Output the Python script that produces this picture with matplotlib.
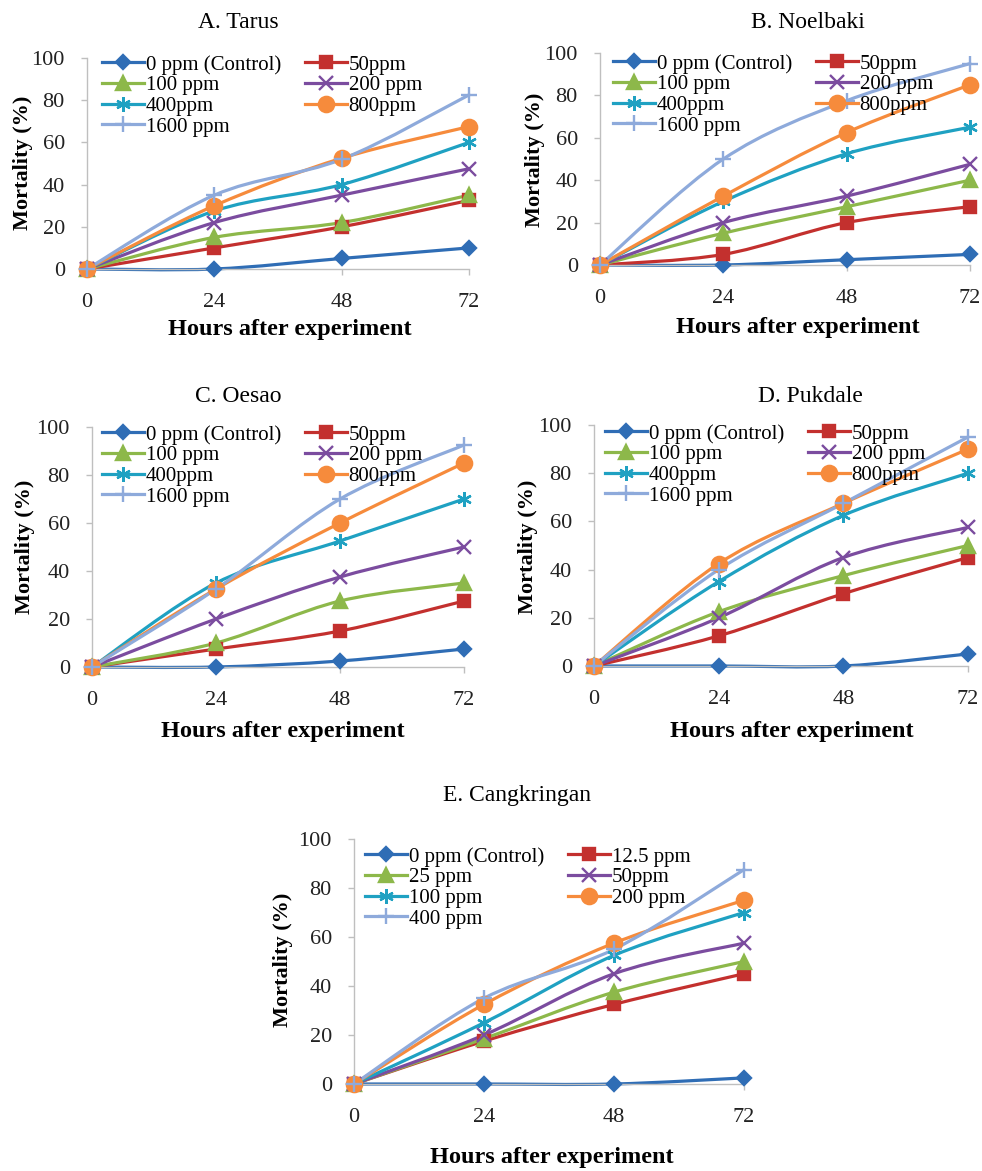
import matplotlib
matplotlib.use("Agg")
import matplotlib.pyplot as plt
from matplotlib.path import Path
from matplotlib.patches import PathPatch
from matplotlib.lines import Line2D

plt.rcParams['font.family'] = ['Liberation Serif', 'DejaVu Serif']

hours = [0, 24, 48, 72]
y_ticks = [0, 20, 40, 60, 80, 100]

labels_main = ['0 ppm (Control)', '50ppm', '100 ppm', '200 ppm', '400ppm', '800ppm', '1600 ppm']
labels_e = ['0 ppm (Control)', '12.5 ppm', '25 ppm', '50ppm', '100 ppm', '200 ppm', '400 ppm']

# A. Tarus
tarus = [
    [0, 0, 5, 10],
    [0, 10, 20, 32.5],
    [0, 15, 22, 35],
    [0, 22, 35, 47.5],
    [0, 27.5, 40, 60],
    [0, 30, 52.5, 67.5],
    [0, 35, 52, 82.5],
]
# B. Noelbaki
noelbaki = [
    [0, 0, 2.5, 5],
    [0, 5, 20, 27.5],
    [0, 15, 27.5, 40],
    [0, 20, 32.5, 47.5],
    [0, 30, 52.5, 65],
    [0, 32.5, 62.5, 85],
    [0, 50, 77.5, 95],
]
# C. Oesao
oesao = [
    [0, 0, 2.5, 7.5],
    [0, 7.5, 15, 27.5],
    [0, 10, 27.5, 35],
    [0, 20, 37.5, 50],
    [0, 35, 52.5, 70],
    [0, 32.5, 60, 85],
    [0, 32.5, 70, 92.5],
]
# D. Pukdale
pukdale = [
    [0, 0, 0, 5],
    [0, 12.5, 30, 45],
    [0, 22.5, 37.5, 50],
    [0, 20, 45, 57.5],
    [0, 35, 62.5, 80],
    [0, 42.5, 67.5, 90],
    [0, 40, 67.5, 95],
]
# E. Cangkringan
cangkringan = [
    [0, 0, 0, 2.5],
    [0, 17.5, 32.5, 45],
    [0, 18.5, 37.5, 50],
    [0, 20, 45, 57.5],
    [0, 25, 52.5, 70],
    [0, 32.5, 57.5, 75],
    [0, 35, 55, 87.5],
]

colors = ['#2F6DB5', '#C3302E', '#8DB84A', '#7B4C9F', '#1FA1C2', '#F68B3C', '#8EAADB']
markers = ['D', 's', '^', 'x', (6, 2, 0), 'o', '+']
msizes = [7.5, 9, 9.5, 9.5, 10.5, 11, 12]

W, H = 982, 1171
fig = plt.figure(figsize=(W / 100, H / 100), dpi=100)


def px_axes(l, t, r, b):
    return fig.add_axes([l / W, 1 - b / H, (r - l) / W, (b - t) / H])


def smooth_path(xs, ys):
    # Excel-style smoothed line: cubic Bezier pieces through the data points
    pts = list(zip(xs, ys))
    n = len(pts)
    verts = [pts[0]]
    codes = [Path.MOVETO]
    for i in range(n - 1):
        p0 = pts[max(i - 1, 0)]
        p1 = pts[i]
        p2 = pts[i + 1]
        p3 = pts[min(i + 2, n - 1)]
        c1 = (p1[0] + (p2[0] - p0[0]) / 6, p1[1] + (p2[1] - p0[1]) / 6)
        c2 = (p2[0] - (p3[0] - p1[0]) / 6, p2[1] - (p3[1] - p1[1]) / 6)
        verts += [c1, c2, p2]
        codes += [Path.CURVE4] * 3
    return Path(verts, codes)


def panel(box, data, labels, title, title_xy, xl_xy, yl_xy, leg_xy):
    ax = px_axes(*box)
    handles = []
    for vals, lab, c, m, ms in zip(data, labels, colors, markers, msizes):
        ax.add_patch(PathPatch(smooth_path(hours, vals), fill=False, edgecolor=c,
                               lw=2.3, clip_on=False, zorder=2,
                               capstyle='round', joinstyle='round'))
        ax.plot(hours, vals, ls='none', color=c, marker=m, ms=ms, mew=1.7,
                clip_on=False, zorder=3)
        handles.append(Line2D([], [], color=c, lw=2.3, marker=m, ms=ms, mew=1.7))
    ax.set_xlim(0, 72)
    ax.set_ylim(0, 100)
    ax.set_xticks(hours)
    ax.set_yticks(y_ticks)
    for s in ['top', 'right']:
        ax.spines[s].set_visible(False)
    for s in ['left', 'bottom']:
        ax.spines[s].set_color('#BFBFBF')
        ax.spines[s].set_linewidth(1.0)
    ax.tick_params(axis='both', colors='#BFBFBF', labelcolor='#222222',
                   labelsize=16, length=4, width=1.0)
    ax.tick_params(axis='x', pad=13)
    ax.tick_params(axis='y', pad=12)
    # row-wise legend order, as in the original
    order = [0, 2, 4, 6, 1, 3, 5]
    bw = box[2] - box[0]
    bh = box[3] - box[1]
    ax.legend([handles[i] for i in order], [labels[i] for i in order], ncol=2,
              loc='upper left', bbox_to_anchor=(leg_xy[0] / bw, 1 + leg_xy[1] / bh),
              frameon=False, fontsize=15, handlelength=2.0, handletextpad=0.1,
              columnspacing=1.15, labelspacing=0.05, borderaxespad=0, borderpad=0)
    fig.text(title_xy[0] / W, 1 - title_xy[1] / H, title, fontsize=17,
             ha='center', va='center')
    fig.text(xl_xy[0] / W, 1 - xl_xy[1] / H, 'Hours after experiment',
             fontsize=17.5, fontweight='bold', ha='center', va='center')
    fig.text(yl_xy[0] / W, 1 - yl_xy[1] / H, 'Mortality (%)', fontsize=16,
             fontweight='bold', ha='center', va='center', rotation=90)
    return ax


panel((87, 58, 469, 269), tarus, labels_main, 'A. Tarus', (238, 22), (290, 329), (23, 163), (15, 3))
panel((600, 53, 970, 265), noelbaki, labels_main, 'B. Noelbaki', (808, 22), (798, 328), (535, 160), (13, -1))
panel((92, 427, 464, 667), oesao, labels_main, 'C. Oesao', (238, 397), (283, 732), (25, 547), (10, 2))
panel((594, 425, 968, 666), pukdale, labels_main, 'D. Pukdale', (810, 397), (792, 732), (528, 547), (11, 1))
panel((354, 839, 744, 1084), cangkringan, labels_e, 'E. Cangkringan', (517, 795), (552, 1158), (283, 960), (11, -8))

fig.savefig('out.png', dpi=100)
